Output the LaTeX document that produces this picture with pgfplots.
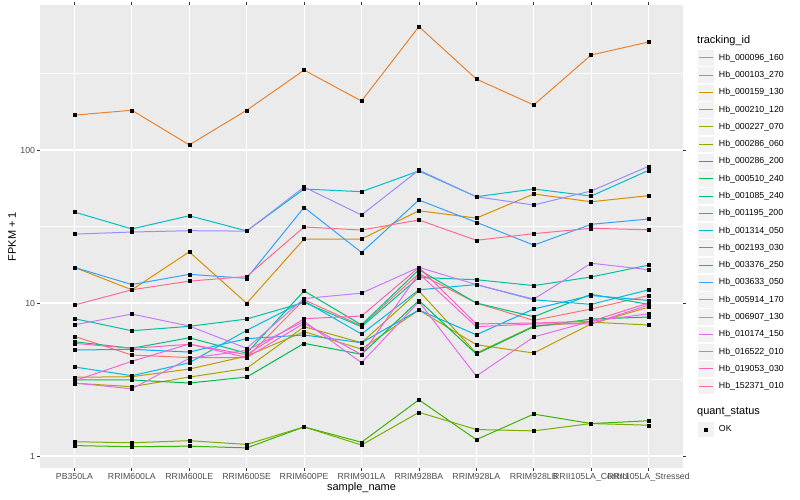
\documentclass[border=0pt]{standalone}
\usepackage{pgfplots}
\pgfplotsset{compat=1.18}
\usepackage{pgfplotstable}
\usepackage{fontspec}
\setmainfont{Liberation Sans}

\definecolor{panel}{HTML}{EBEBEB}
\definecolor{keybg}{HTML}{F2F2F2}
\definecolor{gray30}{HTML}{4D4D4D}
\definecolor{gray20}{HTML}{333333}
\definecolor{c1}{HTML}{F8766D}
\definecolor{c2}{HTML}{EA8331}
\definecolor{c3}{HTML}{D89000}
\definecolor{c4}{HTML}{C09B00}
\definecolor{c5}{HTML}{A3A500}
\definecolor{c6}{HTML}{7CAE00}
\definecolor{c7}{HTML}{39B600}
\definecolor{c8}{HTML}{00BB4E}
\definecolor{c9}{HTML}{00BF7D}
\definecolor{c10}{HTML}{00C1A3}
\definecolor{c11}{HTML}{00BFC4}
\definecolor{c12}{HTML}{00BAE0}
\definecolor{c13}{HTML}{00B0F6}
\definecolor{c14}{HTML}{35A2FF}
\definecolor{c15}{HTML}{9590FF}
\definecolor{c16}{HTML}{C77CFF}
\definecolor{c17}{HTML}{E76BF3}
\definecolor{c18}{HTML}{FA62DB}
\definecolor{c19}{HTML}{FF62BC}
\definecolor{c20}{HTML}{FF6C91}

% FPKM + 1, one row per sample, one column per tracking_id (legend order)
\pgfplotstableread{
x  s1    s2   s3    s4   s5   s6   s7   s8    s9    s10   s11   s12   s13   s14   s15   s16   s17   s18   s19   s20
1  6.06  169  17.1  3.27 2.99 1.24 1.17 3.14  5.58  7.9   39.3  3.82  4.93  17.1  28.2  7.2   3.0   3.1   5.45  9.7
2  4.57  182  12.2  3.3  2.84 1.22 1.15 3.14  5.06  6.59  30.5  3.35  4.98  13.2  29.1  8.47  2.75  4.16  5.06  12.2
3  4.4   108  21.6  3.7  3.28 1.26 1.16 3.0   5.93  7.04  37.2  4.07  4.78  15.4  29.7  7.07  4.35  5.4   5.37  13.9
4  4.4   182  9.96  4.5  3.74 1.19 1.13 3.28  4.7   7.86  29.6  6.63  5.85  14.5  29.5  5.06  4.9   4.4   4.6   14.9
5  10.5  333  26.2  6.5  7.0  1.55 1.55 5.45  12.0  10.1  55.6  10.3  6.18  42.2  57.3  10.7  7.6   7.37  7.9   31.4
6  7.1   209  26.2  5.0  5.5  1.18 1.23 4.62  7.2   7.0   53.4  6.27  5.5   21.4  37.6  11.6  4.07  4.6   8.22  30.0
7  15.6  641  40.1  9.0  12.0 1.93 2.33 10.4  16.5  14.7  73.0  12.2  9.0   47.1  74.0  17.1  10.2  15.6  17.1  34.9
8  10.0  291  35.9  5.34 4.7  1.49 1.28 4.64  10.0  14.2  49.5  13.2  6.2   33.7  49.5  13.2  3.33  7.0   7.3   25.7
9  7.7   197  51.6  4.71 7.07 1.46 1.88 7.0   8.14  13.0  55.6  10.5  9.14  23.9  43.7  10.6  6.0   7.3   7.4   28.4
10 9.14  418  45.9  7.3  7.5  1.63 1.63 7.85  11.4  14.8  50.0  9.8   11.2  32.7  54.0  18.2  7.6   7.3   7.6   30.8
11 11.2  508  50.3  9.4  7.18 1.59 1.70 8.1   9.8   17.7  73.6  12.2  10.4  35.4  78.2  16.5  8.5   9.7   10.0  30.1
}\data

\pgfplotsset{
  keybox/.style={
    legend image code/.code={
      \fill[fill=keybg, draw=white, line width=0.5bp] (0bp,-8.39bp) rectangle (17.28bp,8.39bp);
      \draw[##1, line width=1bp, mark=none] (1.7bp,0bp) -- (15.6bp,0bp);
    }
  },
  gglegend/.style={
    legend cell align=left,
    legend style={draw=none, fill=none, inner sep=0pt, row sep=0pt, column sep=4bp,
      font=\fontsize{8.8}{10}\selectfont,
      nodes={inner sep=0pt, anchor=west}},
  },
}

\begin{document}
\begin{tikzpicture}[x=1bp,y=1bp]
\useasboundingbox (0,0) rectangle (800,500);
\begin{axis}[
  at={(40bp,32bp)}, anchor=south west,
  scale only axis, width=643bp, height=463bp,
  ymode=log, ymin=0.835, ymax=887,
  xmin=0.4, xmax=11.6,
  axis background/.style={fill=panel},
  axis line style={draw=none},
  xtick={1,...,11},
  xticklabels={PB350LA,RRIM600LA,RRIM600LE,RRIM600SE,RRIM600PE,RRIM901LA,RRIM928BA,RRIM928LA,RRIM928LB,RRII105LA\_Control,RRII105LA\_Stressed},
  ytick={1,10,100}, yticklabels={1,10,100},
  minor ytick={3.1623,31.623,316.23},
  grid=both,
  major grid style={white, line width=1.07bp},
  minor grid style={white, line width=0.53bp},
  tick align=outside,
  major tick length=2.75bp, minor tick length=0pt,
  tick style={gray20, line width=0.8bp},
  /pgf/number format/assume math mode=true,
  xticklabel style={font=\fontsize{8.8}{10}\selectfont, text=gray30, inner sep=0pt, anchor=north, yshift=-2.5bp},
  yticklabel style={font=\fontsize{8.8}{10}\selectfont, text=gray30, inner sep=0pt, anchor=east, xshift=-2bp},
  every axis x label/.style={at={(rel axis cs:0.5,0)}, anchor=center, yshift=-20bp, font=\fontsize{11}{13}\selectfont},
  every axis y label/.style={at={(rel axis cs:-0.0435,0.5)}, anchor=center, rotate=90, font=\fontsize{11}{13}\selectfont},
  xlabel={sample\_name}, ylabel={FPKM + 1},
  keybox, gglegend,
  legend style={at={(rel axis cs:1,1)}, anchor=north west, xshift=14bp, yshift=-44bp},
  legend entries={Hb\_000096\_160,Hb\_000103\_270,Hb\_000159\_130,Hb\_000210\_120,Hb\_000227\_070,Hb\_000286\_060,Hb\_000286\_200,Hb\_000510\_240,Hb\_001085\_240,Hb\_001195\_200,Hb\_001314\_050,Hb\_002193\_030,Hb\_003376\_250,Hb\_003633\_050,Hb\_005914\_170,Hb\_006907\_130,Hb\_010174\_150,Hb\_016522\_010,Hb\_019053\_030,Hb\_152371\_010},
]
\pgfplotsinvokeforeach{1,...,20}{
  \addplot[c#1, line width=1bp, mark=none] table[x=x, y=s#1] {\data};
}
\pgfplotsinvokeforeach{1,...,20}{
  \addplot[only marks, mark=square*, mark size=1.5bp, black, forget plot] table[x=x, y=s#1] {\data};
}
\end{axis}
\node[anchor=west, font=\fontsize{11}{13}\selectfont, inner sep=0pt] at (697,459.3) {tracking\_id};
\node[anchor=west, font=\fontsize{11}{13}\selectfont, inner sep=0pt] at (697,87.7) {quant\_status};
\begin{axis}[
  at={(697bp,79.6bp)}, anchor=north west,
  hide axis, scale only axis, width=10bp, height=10bp,
  xmin=0, xmax=1, ymin=0, ymax=1,
  gglegend,
  legend style={at={(rel axis cs:0,1)}, anchor=north west},
  legend image code/.code={
    \fill[fill=keybg, draw=white, line width=0.5bp] (0bp,-8.39bp) rectangle (17.28bp,8.39bp);
    \fill[black] (7.14bp,-1.5bp) rectangle (10.14bp,1.5bp);
  },
]
\addplot[draw=none, forget plot] coordinates {(0,0)};
\addlegendimage{black}
\addlegendentry{OK}
\end{axis}
\end{tikzpicture}
\end{document}
